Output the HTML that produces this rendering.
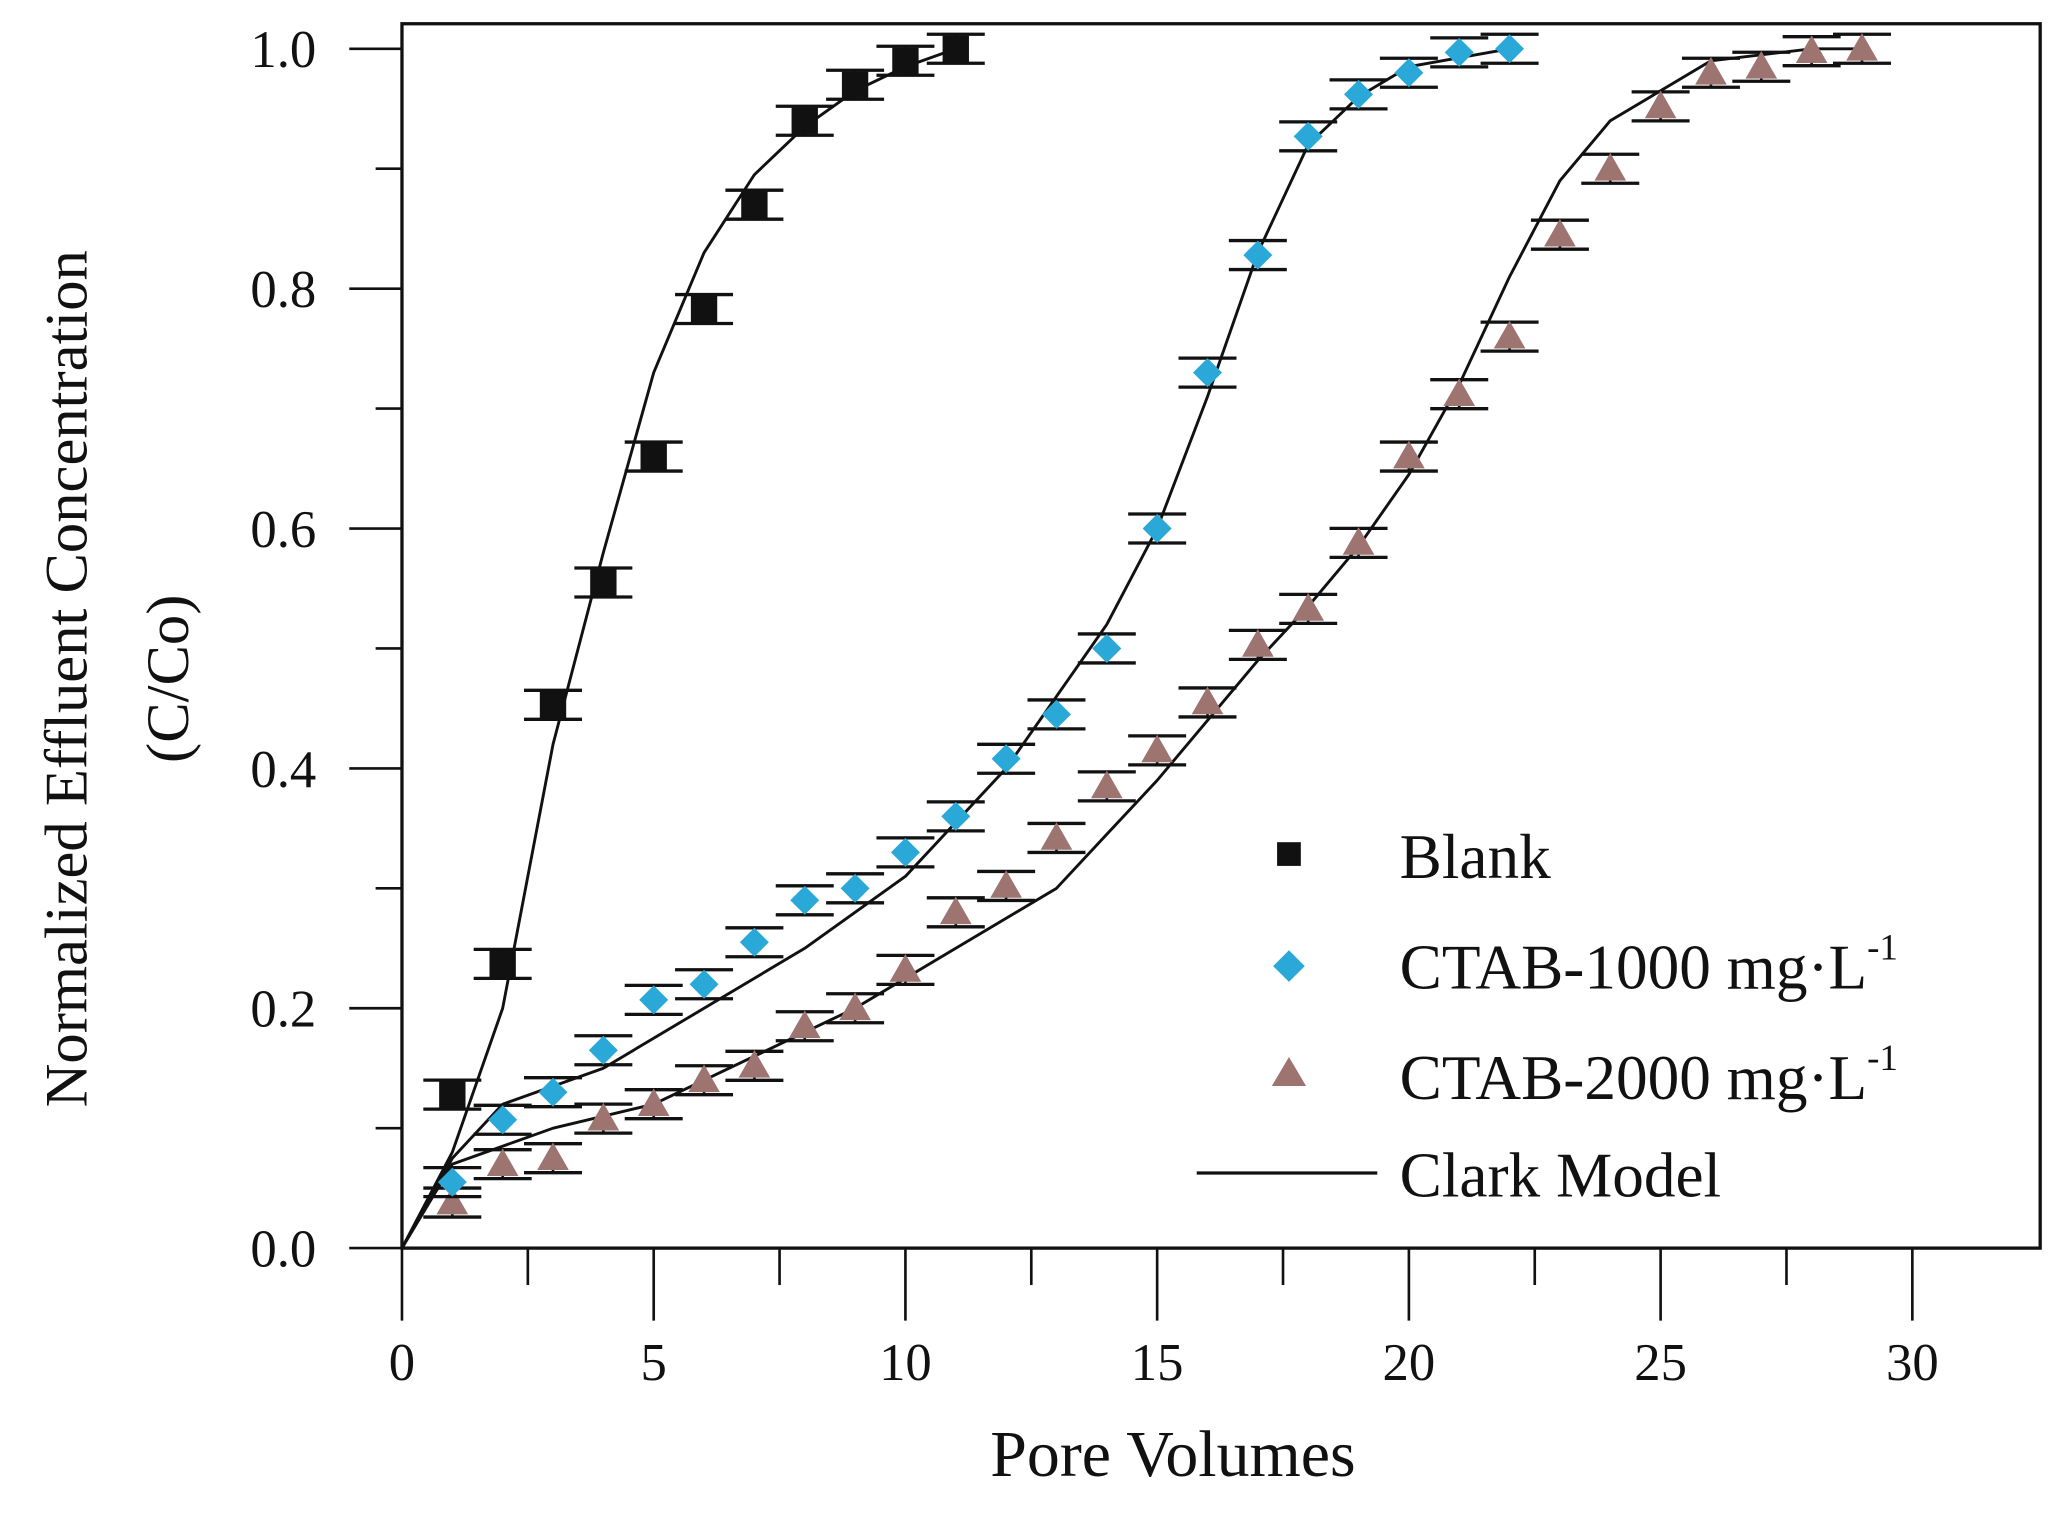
<!DOCTYPE html>
<html><head><meta charset="utf-8"><style>
html,body{margin:0;padding:0;background:#fff;}
svg{display:block;}
text{font-family:"Liberation Serif",serif;fill:#111;}
</style></head><body>
<svg id="s" width="2056" height="1517" viewBox="0 0 1560 1151" xmlns="http://www.w3.org/2000/svg">
<rect x="0" y="0" width="1560" height="1151" fill="#fff"/>
<g id="g"></g>
<rect x="305" y="18" width="1243" height="929" fill="none" stroke="#111" stroke-width="2.5"/>
<text x="55" y="515" font-size="46" text-anchor="middle" transform="rotate(-90 55 515)" dominant-baseline="middle">Normalized Effluent Concentration</text>
<text x="132" y="515" font-size="46" text-anchor="middle" transform="rotate(-90 132 515)" dominant-baseline="middle">(C/Co)</text>
<text x="890" y="1120" font-size="50" text-anchor="middle">Pore Volumes</text>
<rect x="969" y="639" width="18" height="18" fill="#111"/>
<text x="1062" y="666" font-size="48">Blank</text>
<polygon points="978,721 990,733 978,745 966,733" fill="#2aa8d8"/>
<text x="1062" y="750" font-size="48">CTAB-1000 mg·L<tspan font-size="28" dy="-22">-1</tspan></text>
<polygon points="978,802 991,824 965,824" fill="#9e7470"/>
<text x="1062" y="834" font-size="48">CTAB-2000 mg·L<tspan font-size="28" dy="-22">-1</tspan></text>
<line x1="908" y1="890" x2="1045" y2="890" stroke="#111" stroke-width="2.5"/>
<text x="1062" y="908" font-size="48">Clark Model</text>
</svg>
<script>
var g=document.getElementById('g'),h='';
function X(v){return 305+v*38.2;} function Y(v){return 947-v*910;}
for(var i=0;i<=10;i++){var y=Y(i/10);var maj=i%2==0;
h+='<line x1="'+(maj?265:285)+'" y1="'+y+'" x2="305" y2="'+y+'" stroke="#111" stroke-width="2"/>';
if(maj)h+='<text x="240" y="'+(y+14)+'" font-size="40" text-anchor="end">'+(i/10).toFixed(1)+'</text>';}
for(var i=0;i<=32;i+=2.5){var x=X(i);var maj=i%5==0;if(x>1548)break;
h+='<line x1="'+x+'" y1="947" x2="'+x+'" y2="'+(maj?1002:975)+'" stroke="#111" stroke-width="2"/>';
if(maj)h+='<text x="'+x+'" y="1047" font-size="40" text-anchor="middle">'+i+'</text>';}
function path(p){var d='';p.forEach(function(q,k){d+=(k?'L':'M')+X(q[0]).toFixed(1)+','+Y(q[1]).toFixed(1);});
h+='<path d="'+d+'" fill="none" stroke="#111" stroke-width="2.2" stroke-linejoin="round"/>';}
path([[0,0],[1,0.08],[2,0.2],[3,0.42],[4,0.58],[5,0.73],[6,0.83],[7,0.895],[8,0.935],[9,0.965],[10,0.985],[11,1.0]]);
path([[0,0],[1,0.075],[2,0.12],[4,0.15],[6,0.2],[8,0.25],[10,0.31],[12,0.4],[14,0.52],[15,0.6],[16,0.71],[17,0.83],[18,0.92],[19,0.96],[20,0.985],[22,1.0]]);
path([[0,0],[1,0.07],[3,0.1],[5,0.12],[7,0.16],[9,0.2],[11,0.25],[13,0.3],[14,0.345],[15,0.39],[16,0.44],[17,0.49],[18,0.535],[19,0.585],[20,0.645],[21,0.72],[22,0.81],[23,0.89],[24,0.94],[26,0.99],[28,1.0],[29,1.0]]);
function eb(x,y){var cx=X(x),t=Y(y)-11,b=Y(y)+11;
h+='<line x1="'+(cx-22)+'" y1="'+t+'" x2="'+(cx+22)+'" y2="'+t+'" stroke="#111" stroke-width="2.5"/>';
h+='<line x1="'+(cx-22)+'" y1="'+b+'" x2="'+(cx+22)+'" y2="'+b+'" stroke="#111" stroke-width="2.5"/>';
h+='<line x1="'+cx+'" y1="'+t+'" x2="'+cx+'" y2="'+b+'" stroke="#111" stroke-width="2"/>';}
var B=[[1,0.128],[2,0.237],[3,0.453],[4,0.555],[5,0.66],[6,0.783],[7,0.87],[8,0.94],[9,0.97],[10,0.99],[11,1.0]];
var C1=[[1,0.055],[2,0.107],[3,0.13],[4,0.165],[5,0.207],[6,0.22],[7,0.255],[8,0.29],[9,0.3],[10,0.33],[11,0.36],[12,0.408],[13,0.445],[14,0.5],[15,0.6],[16,0.73],[17,0.828],[18,0.927],[19,0.962],[20,0.98],[21,0.997],[22,1.0]];
var C2=[[1,0.038],[2,0.07],[3,0.075],[4,0.108],[5,0.12],[6,0.14],[7,0.152],[8,0.185],[9,0.2],[10,0.232],[11,0.28],[12,0.302],[13,0.342],[14,0.385],[15,0.415],[16,0.455],[17,0.503],[18,0.533],[19,0.588],[20,0.66],[21,0.712],[22,0.76],[23,0.845],[24,0.9],[25,0.952],[26,0.98],[27,0.985],[28,0.998],[29,1.0]];
C2.forEach(function(p){eb(p[0],p[1]);var x=X(p[0]),y=Y(p[1]);h+='<polygon points="'+x+','+(y-12)+' '+(x+12)+','+(y+9)+' '+(x-12)+','+(y+9)+'" fill="#9e7470"/>';});
C1.forEach(function(p){eb(p[0],p[1]);var x=X(p[0]),y=Y(p[1]);h+='<polygon points="'+x+','+(y-11)+' '+(x+11)+','+y+' '+x+','+(y+11)+' '+(x-11)+','+y+'" fill="#2aa8d8"/>';});
B.forEach(function(p){eb(p[0],p[1]);var x=X(p[0]),y=Y(p[1]);h+='<rect x="'+(x-10)+'" y="'+(y-10)+'" width="20" height="20" fill="#111"/>';});
g.innerHTML=h;
</script>
</body></html>
